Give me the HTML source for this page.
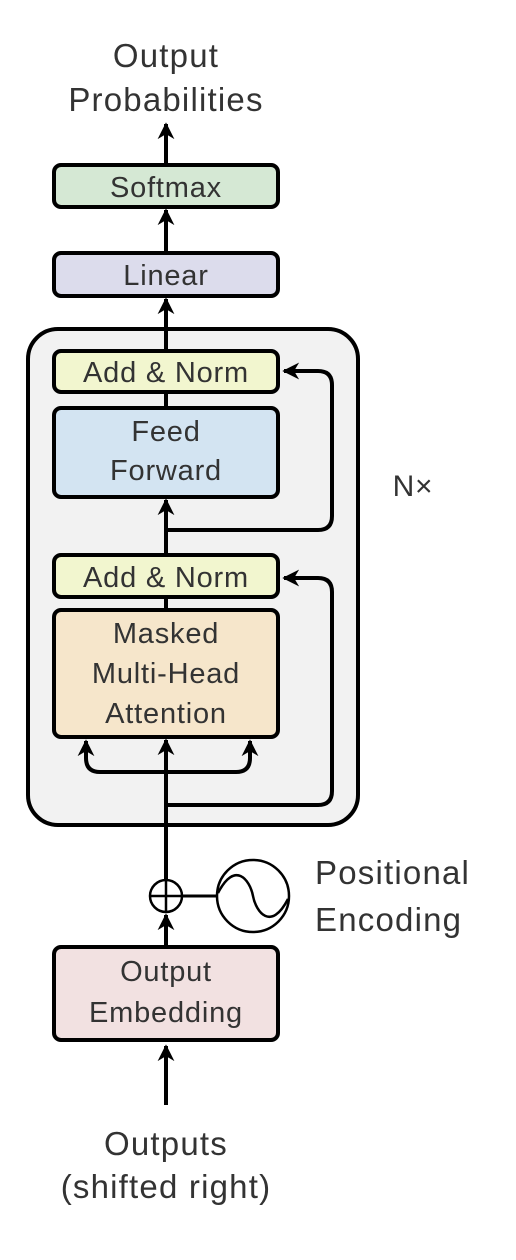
<!DOCTYPE html>
<html><head><style>
html,body{margin:0;padding:0;background:#fff;}
svg{display:block;}
text{font-family:"Liberation Sans",sans-serif;fill:#333;text-anchor:middle;}
</style></head><body>
<svg width="516" height="1260" viewBox="0 0 516 1260" xmlns="http://www.w3.org/2000/svg">
<defs>
<marker id="a" viewBox="0 0 10 10" refX="9" refY="5" markerWidth="4.2" markerHeight="4.2" orient="auto-start-reverse">
<path d="M0,0 L10,5 L0,10 L3,5 Z" fill="#000"/>
</marker>
</defs>
<g stroke="#000" stroke-width="4" fill="none">
<rect x="28" y="329" width="330" height="496" rx="30" fill="#f2f2f2"/>
<line x1="166" y1="1105" x2="166" y2="1046" marker-end="url(#a)"/>
<line x1="166" y1="946" x2="166" y2="915" marker-end="url(#a)"/>
<line x1="166" y1="879" x2="166" y2="740" marker-end="url(#a)"/>
<line x1="166" y1="608" x2="166" y2="597"/>
<line x1="166" y1="555" x2="166" y2="500" marker-end="url(#a)"/>
<line x1="166" y1="408" x2="166" y2="392"/>
<line x1="166" y1="351" x2="166" y2="299" marker-end="url(#a)"/>
<line x1="166" y1="253" x2="166" y2="210" marker-end="url(#a)"/>
<line x1="166" y1="165" x2="166" y2="124" marker-end="url(#a)"/>
<path d="M166 530 H318 Q332 530 332 516 V385 Q332 371 318 371 H284" marker-end="url(#a)"/>
<path d="M166 805 H318 Q332 805 332 791 V592 Q332 578 318 578 H284" marker-end="url(#a)"/>
<path d="M166 772 H100 Q86 772 86 758 V741" marker-end="url(#a)"/>
<path d="M166 772 H236 Q250 772 250 758 V741" marker-end="url(#a)"/>
<rect x="54" y="165" width="224" height="42" rx="7" fill="#d5e8d4"/>
<rect x="54" y="253" width="224" height="43" rx="7" fill="#dcdcec"/>
<rect x="54" y="351" width="224" height="41" rx="7" fill="#f2f6cf"/>
<rect x="54" y="408" width="224" height="89" rx="7" fill="#d3e4f2"/>
<rect x="54" y="555" width="224" height="42" rx="7" fill="#f2f6cf"/>
<rect x="54" y="610" width="224" height="127" rx="7" fill="#f6e6cb"/>
<rect x="54" y="947" width="224" height="93" rx="7" fill="#f2e1e1"/>
<circle cx="166" cy="896" r="16" stroke-width="2.5" fill="#fff"/>
<line x1="166" y1="880" x2="166" y2="912" stroke-width="2.5"/>
<line x1="150" y1="896" x2="182" y2="896" stroke-width="2.5"/>
<line x1="182" y1="896" x2="218" y2="896" stroke-width="3"/>
<circle cx="253" cy="896" r="36" stroke-width="2.5" fill="#fff"/>
<path d="M218 893 C235 860 250 880 253 896 C256 912 271 932 288 899" stroke-width="2.5"/>
</g>
<g font-size="29" letter-spacing="0.8">
<text x="166" y="67" font-size="33" letter-spacing="1.2">Output</text>
<text x="166" y="111" font-size="33" letter-spacing="1.2">Probabilities</text>
<text x="166" y="197">Softmax</text>
<text x="166" y="285">Linear</text>
<text x="166" y="382">Add &amp; Norm</text>
<text x="166" y="441">Feed</text>
<text x="166" y="480">Forward</text>
<text x="166" y="587">Add &amp; Norm</text>
<text x="166" y="643">Masked</text>
<text x="166" y="683">Multi-Head</text>
<text x="166" y="723">Attention</text>
<text x="166" y="981">Output</text>
<text x="166" y="1022">Embedding</text>
<text x="413" y="496" font-size="30">N×</text>
<text x="315" y="884" font-size="33" letter-spacing="1.2" style="text-anchor:start">Positional</text>
<text x="315" y="931" font-size="33" letter-spacing="1.2" style="text-anchor:start">Encoding</text>
<text x="166" y="1155" font-size="33" letter-spacing="1.2">Outputs</text>
<text x="166" y="1198" font-size="33" letter-spacing="1.2">(shifted right)</text>
</g>
</svg>
</body></html>
